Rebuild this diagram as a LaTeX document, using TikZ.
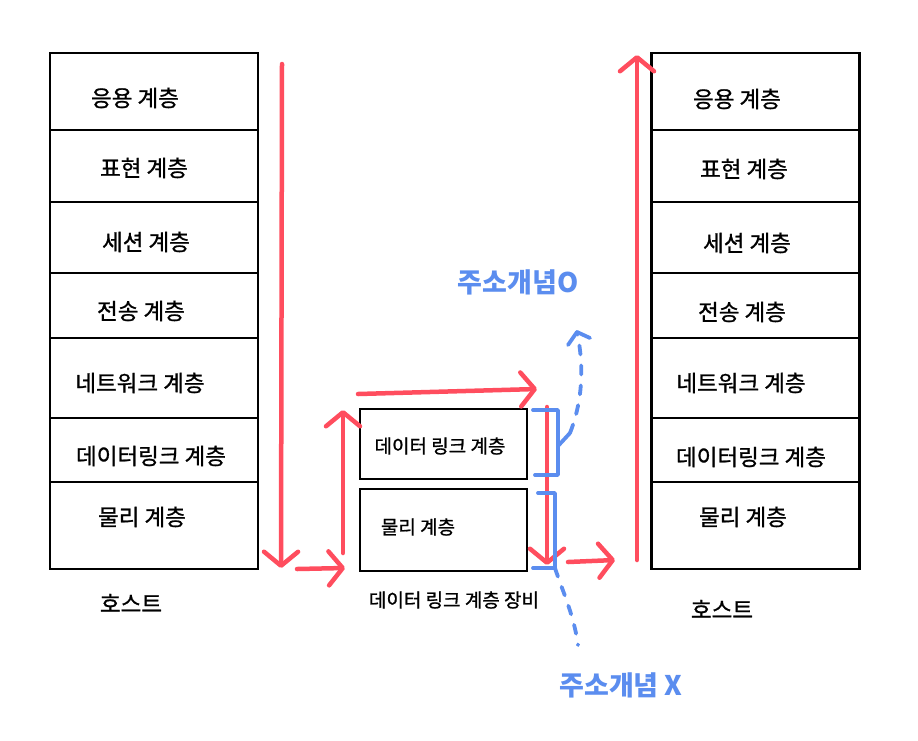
\documentclass[tikz,border=0pt]{standalone}
\usepackage{fontspec}
\newfontfamily\kr[FakeBold=1]{Noto Sans CJK KR}
\newfontfamily\krb{Noto Sans CJK KR}
\usetikzlibrary{arrows.meta}
\definecolor{hred}{HTML}{FF4D5E}
\definecolor{hblue}{HTML}{5B8DEF}
\begin{document}
\begin{tikzpicture}[x=1pt,y=-1pt,
  layer/.style={draw=black,line width=2.5pt,minimum width=208pt,inner sep=0pt,outer sep=0pt},
  dev/.style={draw=black,line width=2.5pt,minimum width=167pt,inner sep=0pt,outer sep=0pt},
  lbl/.style={font=\kr\fontsize{22.5}{22.5}\selectfont,inner sep=0pt,anchor=center},
  slbl/.style={font=\kr\fontsize{19}{19}\selectfont,inner sep=0pt,anchor=center},
  blbl/.style={font=\krb\bfseries\fontsize{27}{27}\selectfont,text=hblue,inner sep=0pt,anchor=center},
  flow/.style={draw=hred,line width=4.5pt,line cap=round,line join=round,
    -{Straight Barb[length=14pt,width=34pt,round]}},
  brk/.style={draw=hblue,line width=3.8pt,line cap=round,line join=round},
  dsh/.style={draw=hblue,line width=3.8pt,line cap=round,dash pattern=on 9pt off 11pt},
]
\useasboundingbox (0,0) rectangle (918,740);
\fill[white] (0,0) rectangle (918,740);

% ---- left host stack ----
\node[layer,minimum height=77pt] (l1) at (154,91.5) {};
\node[layer,minimum height=72pt] (l2) at (154,166) {};
\node[layer,minimum height=71pt] (l3) at (154,237.5) {};
\node[layer,minimum height=65pt] (l4) at (154,305.5) {};
\node[layer,minimum height=80pt] (l5) at (154,378) {};
\node[layer,minimum height=64pt] (l6) at (154,450) {};
\node[layer,minimum height=87pt] (l7) at (154,525.5) {};
\node[lbl] (lt1) at (135,98) {응용 계층};
\node[lbl] (lt2) at (144,168) {표현 계층};
\node[lbl] (lt3) at (146,242) {세션 계층};
\node[lbl] (lt4) at (141,311) {전송 계층};
\node[lbl] (lt5) at (140,383) {네트워크 계층};
\node[lbl] (lt6) at (151,456) {데이터링크 계층};
\node[lbl] (lt7) at (142,517) {물리 계층};
\node[lbl] (lh) at (131,603) {호스트};

% ---- right host stack ----
\node[layer,minimum height=77pt] (r1) at (755.5,91.5) {};
\node[layer,minimum height=72pt] (r2) at (755.5,166) {};
\node[layer,minimum height=71pt] (r3) at (755.5,237.5) {};
\node[layer,minimum height=65pt] (r4) at (755.5,305.5) {};
\node[layer,minimum height=80pt] (r5) at (755.5,378) {};
\node[layer,minimum height=64pt] (r6) at (755.5,450) {};
\node[layer,minimum height=87pt] (r7) at (755.5,525.5) {};
\node[lbl] (rt1) at (737,99) {응용 계층};
\node[lbl] (rt2) at (744,169) {표현 계층};
\node[lbl] (rt3) at (747,243) {세션 계층};
\node[lbl] (rt4) at (742,312) {전송 계층};
\node[lbl] (rt5) at (741,383) {네트워크 계층};
\node[lbl] (rt6) at (751,457) {데이터링크 계층};
\node[lbl] (rt7) at (743,517) {물리 계층};
\node[lbl] (rh) at (722,609) {호스트};

% ---- device ----
\node[dev,minimum height=70pt] (d1) at (443.5,444) {};
\node[dev,minimum height=82pt] (d2) at (443.5,530) {};
\node[slbl] (dt1) at (440,446) {데이터 링크 계층};
\node[slbl] (dt2) at (418,527) {물리 계층};
\node[slbl] (dl) at (454,600) {데이터 링크 계층 장비};

% ---- red flow ----
\coordinate (a1s) at (282,64);   \coordinate (a1e) at (281,568);
\coordinate (a2s) at (297,569);  \coordinate (a2e) at (345,568);
\coordinate (a3s) at (343,553);  \coordinate (a3e) at (343,410);
\coordinate (a4s) at (358,394);  \coordinate (a4e) at (537,389);
\coordinate (a5s) at (547,407);  \coordinate (a5e) at (547,565);
\coordinate (a6s) at (568,562);  \coordinate (a6e) at (615,560);
\coordinate (a7s) at (637,560);  \coordinate (a7e) at (637,55);
\draw[flow] (a1s) -- (a1e);
\draw[flow] (a2s) -- (a2e);
\draw[flow] (a3s) -- (a3e);
\draw[flow] (a4s) -- (a4e);
\draw[flow] (a5s) -- (a5e);
\draw[flow] (a6s) -- (a6e);
\draw[flow] (a7s) -- (a7e);

% ---- blue brackets ----
\coordinate (b1a) at (533,410); \coordinate (b1b) at (558,410);
\coordinate (b1c) at (558,475); \coordinate (b1d) at (535,475);
\coordinate (b1m) at (558,446); \coordinate (b1t) at (570,433);
\coordinate (up) at (577,332);
\draw[brk] (b1a) -- (b1b) -- (b1c) -- (b1d);
\draw[brk] (b1m) -- (b1t);
\draw[dsh] (b1t) .. controls (583,400) and (584,365) .. (up);
\draw[brk] (568,345) -- (up) -- (590,338);

\coordinate (b2a) at (538,493); \coordinate (b2b) at (555,493);
\coordinate (b2c) at (555,568); \coordinate (b2d) at (533,568);
\coordinate (dn) at (578,645);
\draw[brk] (b2a) -- (b2b) -- (b2c) -- (b2d);
\draw[dsh] (b2c) .. controls (562,590) and (574,615) .. (dn);

\node[blbl] (ok) at (518,282) {주소개념O};
\node[blbl] (no) at (621,685) {주소개념 X};
\end{tikzpicture}
\end{document}
